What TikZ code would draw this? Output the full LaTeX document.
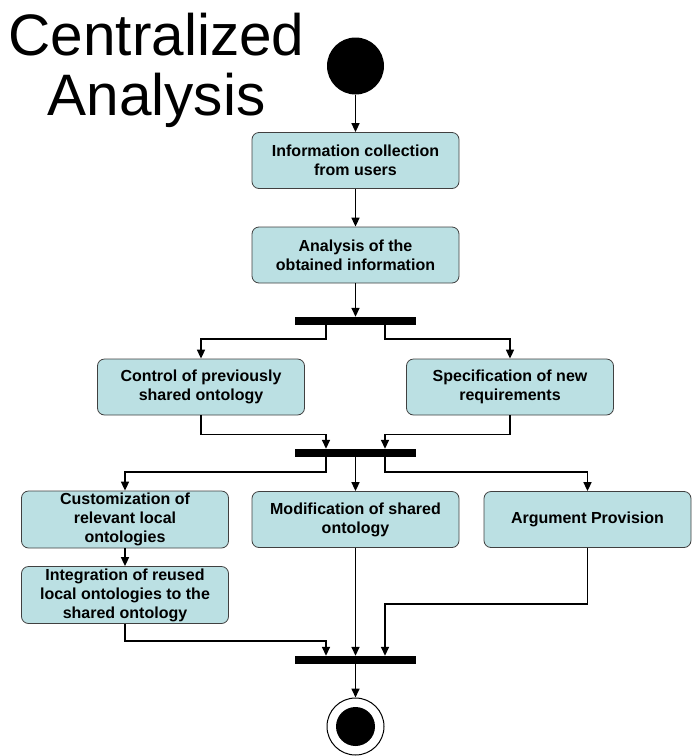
\documentclass[tikz,border=0pt]{standalone}
\usepackage{fontspec}
\setmainfont{Liberation Sans}
\usetikzlibrary{arrows.meta,positioning}
\definecolor{actfill}{RGB}{187,224,227}

\tikzset{
  activity/.style={draw=black!75, line width=0.8pt, fill=actfill, rounded corners=7pt,
    minimum width=207pt, minimum height=56pt, align=center, inner sep=2pt,
    font=\fontsize{16}{19}\selectfont\bfseries},
  syncbar/.style={fill=black, inner sep=0pt, minimum width=121pt, minimum height=8pt},
  flow/.style={line width=1.6pt, -{Triangle[length=9pt,width=8pt]}},
}

\begin{document}
\begin{tikzpicture}[x=1pt,y=1pt]
  \useasboundingbox (0,0) rectangle (694,-756);

  \node[anchor=north, inner sep=0pt, align=center, font=\fontsize{58.5}{60}\selectfont] (title) at (156.5,-13) {Centralized\\Analysis};

  \node[circle, fill=black, minimum size=57pt, inner sep=0pt] (start) at (355.5,-66) {};

  \node[activity] (info) at (355.5,-160.5) {Information collection\\from users};
  \node[activity] (anal) at (355.5,-255) {Analysis of the\\obtained information};
  \node[syncbar] (bar1) at (355.5,-321) {};

  \node[activity] (ctrl) at (201,-387) {Control of previously\\shared ontology};
  \node[activity] (spec) at (510,-387) {Specification of new\\requirements};
  \node[syncbar] (bar2) at (355.5,-453) {};

  \node[activity] (cust) at (125,-519.5) {Customization of\\relevant local\\ontologies};
  \node[activity] (modi) at (355.5,-519.5) {Modification of shared\\ontology};
  \node[activity] (argu) at (587.5,-519.5) {Argument Provision};
  \node[activity] (integ) at (125,-595) {Integration of reused\\local ontologies to the\\shared ontology};
  \node[syncbar] (bar3) at (355.5,-660) {};

  \node[circle, draw, line width=1pt, fill=white, minimum size=57pt, inner sep=0pt] (endout) at (355.5,-726.5) {};
  \node[circle, fill=black, minimum size=39pt, inner sep=0pt] (endin) at (endout.center) {};

  % top part
  \draw[flow] (start) -- (info);
  \draw[flow] (info) -- (anal);
  \draw[flow] (anal) -- (bar1);
  \draw[flow] ([xshift=-29.5pt]bar1.south) -- ++(0,-14) -| (ctrl.north);
  \draw[flow] ([xshift=29.5pt]bar1.south) -- ++(0,-14) -| (spec.north);
  \draw[flow] (ctrl.south) -- ++(0,-19) -| ([xshift=-29.5pt]bar2.north);
  \draw[flow] (spec.south) -- ++(0,-19) -| ([xshift=29.5pt]bar2.north);

  % lower part
  \draw[flow] ([xshift=-29.5pt]bar2.south) -- ++(0,-15) -| (cust.north);
  \draw[flow] (bar2) -- (modi);
  \draw[flow] ([xshift=29.5pt]bar2.south) -- ++(0,-15) -| (argu.north);
  \draw[flow] (cust) -- (integ);
  \draw[flow] (integ.south) -- ++(0,-17) -| ([xshift=-29.5pt]bar3.north);
  \draw[flow] (modi) -- (bar3);
  \draw[flow] (argu.south) -- ++(0,-56) -| ([xshift=29.5pt]bar3.north);
  \draw[flow] (bar3) -- (endout);
\end{tikzpicture}
\end{document}
